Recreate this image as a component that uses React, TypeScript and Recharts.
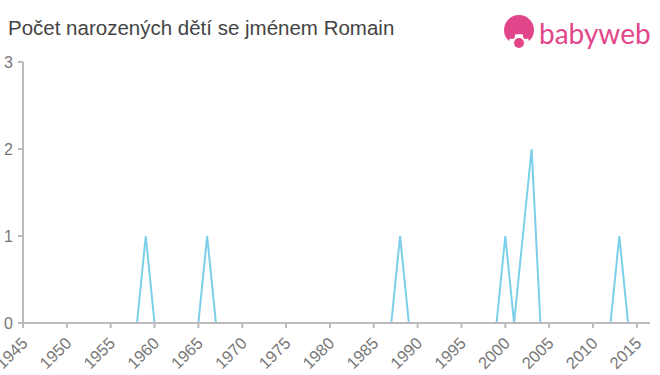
import React from "react";
import { LineChart, Line, XAxis, YAxis } from "recharts";

const years: number[] = [];
for (let y = 1945; y <= 2017; y++) years.push(y);
const peakYears = [1959, 1966, 1988, 2000, 2002, 2003, 2013];
const peakValues = [1, 1, 1, 1, 1, 2, 1];
const xTicks = [1945, 1950, 1955, 1960, 1965, 1970, 1975, 1980, 1985, 1990, 1995, 2000, 2005, 2010, 2015];
const yTicks = [0, 1, 2, 3];

const data = years.map((y) => {
  const i = peakYears.indexOf(y);
  return { year: y, count: i >= 0 ? peakValues[i] : 0 };
});

const XTick = (props: any) => {
  const { x, y, payload } = props;
  return (
    <text
      x={x}
      y={y}
      transform={`rotate(-45 ${x} ${y})`}
      textAnchor="end"
      fill="#777"
      fontSize={16.5}
      fontFamily="Liberation Sans, Arial, sans-serif"
      dx={-6}
      dy={14}
    >
      {payload.value}
    </text>
  );
};

const Logo = () => (
  <svg width={170} height={60} style={{ position: "absolute", left: 490, top: 0 }}>
    <g>
      <circle cx={29} cy={30} r={15} fill="#e2468a" />
      <ellipse cx={29} cy={41} rx={10} ry={7} fill="#fff" />
      <circle cx={22} cy={36} r={3} fill="#e2468a" />
      <circle cx={36} cy={36} r={3} fill="#e2468a" />
      <circle cx={29} cy={43} r={5} fill="#e2468a" />
    </g>
    <text
      x={49}
      y={44}
      fill="#e2468a"
      fontSize={28}
      fontFamily="Lato, 'Open Sans', sans-serif"
    >
      babyweb
    </text>
  </svg>
);

export default function App() {
  return (
    <div style={{ position: "absolute", left: 0, top: 0, width: 660, height: 375, background: "#fff" }}>
      <div
        style={{
          position: "absolute",
          left: 8,
          top: 16,
          fontFamily: "Liberation Sans, Arial, sans-serif",
          fontSize: 20.5,
          color: "#444",
          whiteSpace: "nowrap",
        }}
      >
        Počet narozených dětí se jménem Romain
      </div>
      <Logo />
      <LineChart width={660} height={375} data={data} margin={{ top: 62, right: 10, bottom: 0, left: 0 }}>
        <XAxis
          dataKey="year"
          type="number"
          domain={[1945, 2016.5]}
          allowDataOverflow
          ticks={xTicks}
          interval={0}
          height={52}
          tick={<XTick />}
          tickSize={5}
          stroke="#bbb"
          strokeWidth={2}
        />
        <YAxis
          width={23}
          domain={[0, 3]}
          ticks={yTicks}
          interval={0}
          tickSize={5}
          tickMargin={5}
          stroke="#bbb"
          strokeWidth={2}
          tick={{ fill: "#777", fontSize: 16, fontFamily: "Liberation Sans, Arial, sans-serif" }}
        />
        <Line
          type="linear"
          dataKey="count"
          stroke="#7ccfe8"
          strokeWidth={2}
          dot={false}
          isAnimationActive={false}
        />
      </LineChart>
    </div>
  );
}
